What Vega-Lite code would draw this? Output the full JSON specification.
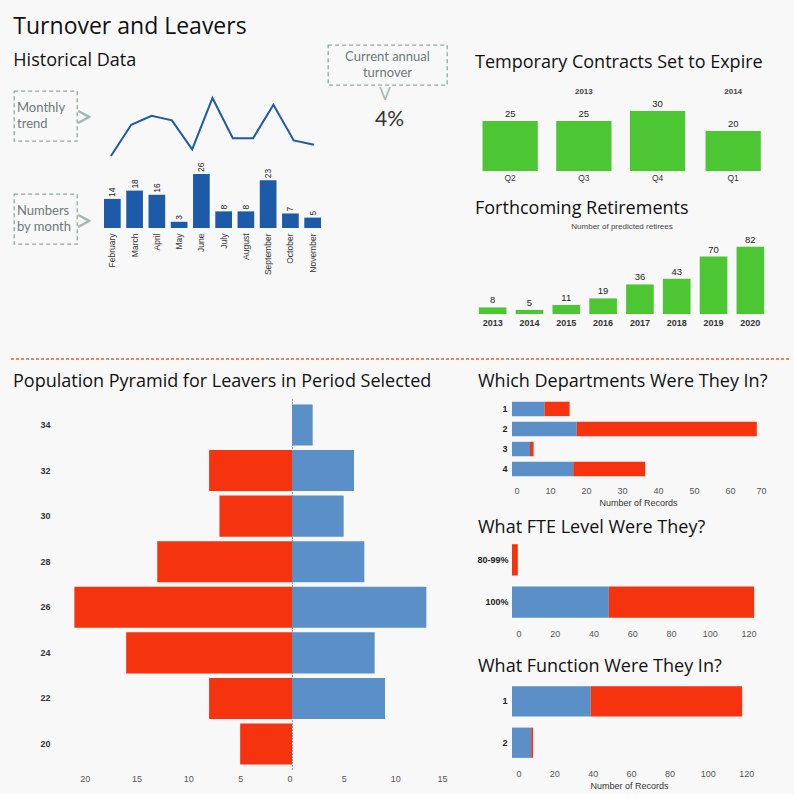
{
  "$schema": "https://vega.github.io/schema/vega-lite/v6.json",
  "background": "#f8f8f8",
  "padding": {"left": 8, "top": 16, "right": 4, "bottom": 4},
  "title": {"text": "Turnover and Leavers", "fontSize": 23, "dx": 5, "offset": 5},
  "datasets": {
    "monthly": [
      {"month": "February", "count": 14}, {"month": "March", "count": 18}, {"month": "April", "count": 16},
      {"month": "May", "count": 3}, {"month": "June", "count": 26}, {"month": "July", "count": 8},
      {"month": "August", "count": 8}, {"month": "September", "count": 23}, {"month": "October", "count": 7},
      {"month": "November", "count": 5}
    ],
    "trend": [
      {"month": "January", "count": 0}, {"month": "February", "count": 14}, {"month": "March", "count": 18},
      {"month": "April", "count": 16}, {"month": "May", "count": 3}, {"month": "June", "count": 26},
      {"month": "July", "count": 8}, {"month": "August", "count": 8}, {"month": "September", "count": 23},
      {"month": "October", "count": 7}, {"month": "November", "count": 5}
    ],
    "contracts": [
      {"year": "2013", "quarter": "Q2", "count": 25}, {"year": "2013", "quarter": "Q3", "count": 25},
      {"year": "2013", "quarter": "Q4", "count": 30}, {"year": "2014", "quarter": "Q1", "count": 20}
    ],
    "retire": [
      {"year": "2013", "count": 8}, {"year": "2014", "count": 5}, {"year": "2015", "count": 11},
      {"year": "2016", "count": 19}, {"year": "2017", "count": 36}, {"year": "2018", "count": 43},
      {"year": "2019", "count": 70}, {"year": "2020", "count": 82}
    ],
    "pyramid": [
      {"age": "34", "gender": "Female", "count": 0}, {"age": "34", "gender": "Male", "count": 2},
      {"age": "32", "gender": "Female", "count": 8}, {"age": "32", "gender": "Male", "count": 6},
      {"age": "30", "gender": "Female", "count": 7}, {"age": "30", "gender": "Male", "count": 5},
      {"age": "28", "gender": "Female", "count": 13}, {"age": "28", "gender": "Male", "count": 7},
      {"age": "26", "gender": "Female", "count": 21}, {"age": "26", "gender": "Male", "count": 13},
      {"age": "24", "gender": "Female", "count": 16}, {"age": "24", "gender": "Male", "count": 8},
      {"age": "22", "gender": "Female", "count": 8}, {"age": "22", "gender": "Male", "count": 9},
      {"age": "20", "gender": "Female", "count": 5}, {"age": "20", "gender": "Male", "count": 0}
    ],
    "dept": [
      {"dept": "1", "gender": "Male", "n": 9}, {"dept": "1", "gender": "Female", "n": 7},
      {"dept": "2", "gender": "Male", "n": 18}, {"dept": "2", "gender": "Female", "n": 50},
      {"dept": "3", "gender": "Male", "n": 5}, {"dept": "3", "gender": "Female", "n": 1},
      {"dept": "4", "gender": "Male", "n": 17}, {"dept": "4", "gender": "Female", "n": 20}
    ],
    "fte": [
      {"fte": "80-99%", "gender": "Female", "n": 3},
      {"fte": "100%", "gender": "Male", "n": 50}, {"fte": "100%", "gender": "Female", "n": 75}
    ],
    "func": [
      {"func": "1", "gender": "Male", "n": 41}, {"func": "1", "gender": "Female", "n": 79},
      {"func": "2", "gender": "Male", "n": 10}, {"func": "2", "gender": "Female", "n": 1}
    ],
    "notes": [
      {"note": "trend", "label": "Monthly\ntrend"},
      {"note": "month", "label": "Numbers\nby month"},
      {"note": "turnover", "label": "Current annual\nturnover"},
      {"note": "value", "label": "4%"}
    ]
  },
  "spacing": 13,
  "vconcat": [
    {
      "spacing": 31,
      "vconcat": [
        {
          "spacing": 0,
          "hconcat": [
            {"width": 4, "height": 10, "data": {"values": []}, "mark": "point"},
            {
              "spacing": 27,
              "hconcat": [
                {
                  "title": {"text": "Historical Data", "fontSize": 18, "dy": 26, "offset": 0},
                  "spacing": 4,
                  "hconcat": [
                    {
                      "spacing": 8,
                      "hconcat": [
                        {
                          "spacing": 0,
                          "vconcat": [
                            {"width": 63, "height": 45, "data": {"values": []}, "mark": "point"},
                            {
                              "width": 63, "height": 50,
                              "data": {"name": "notes"},
                              "transform": [{"filter": "datum.note == 'trend'"}],
                              "view": {"stroke": "#8da8a2", "strokeDash": [4, 3], "strokeWidth": 1.3},
                              "layer": [
                                {"mark": {"type": "text", "align": "left", "baseline": "middle", "dx": -28.5, "dy": -8, "font": "Lato", "fontSize": 13, "lineHeight": 16, "lineBreak": "\n", "color": "#6b7a78"},
                                 "encoding": {"text": {"field": "label"}}},
                                {"mark": {"type": "text", "text": ">", "align": "left", "baseline": "middle", "dx": 29, "dy": 2, "font": "Lato", "fontSize": 32, "color": "#a3b8b3"},
                                 "encoding": {}}
                              ]
                            },
                            {"width": 63, "height": 51, "data": {"values": []}, "mark": "point"},
                            {
                              "width": 63, "height": 50,
                              "data": {"name": "notes"},
                              "transform": [{"filter": "datum.note == 'month'"}],
                              "view": {"stroke": "#8da8a2", "strokeDash": [4, 3], "strokeWidth": 1.3},
                              "layer": [
                                {"mark": {"type": "text", "align": "left", "baseline": "middle", "dx": -28.5, "dy": -8, "font": "Lato", "fontSize": 13, "lineHeight": 16, "lineBreak": "\n", "color": "#6b7a78"},
                                 "encoding": {"text": {"field": "label"}}},
                                {"mark": {"type": "text", "text": ">", "align": "left", "baseline": "middle", "dx": 29, "dy": 2.5, "font": "Lato", "fontSize": 32, "color": "#a3b8b3"},
                                 "encoding": {}}
                              ]
                            }
                          ]
                        },
                        {
                          "spacing": 2,
                          "vconcat": [
                            {"width": 221, "height": 47, "data": {"values": []}, "mark": "point"},
                            {
                              "width": 221, "height": 58,
                              "data": {"name": "trend"},
                              "mark": {"type": "line", "color": "#1d5aa7", "strokeWidth": 2},
                              "encoding": {
                                "x": {"field": "month", "type": "ordinal", "sort": null, "scale": {"type": "point", "padding": 0.44}, "axis": null},
                                "y": {"field": "count", "type": "quantitative", "scale": {"domain": [0, 26], "nice": false}, "axis": null}
                              }
                            },
                            {
                              "width": 221, "height": 54,
                              "data": {"name": "monthly"},
                              "encoding": {
                                "x": {"field": "month", "type": "nominal", "sort": null, "scale": {"paddingInner": 0.25, "paddingOuter": 0.09},
                                      "axis": {"title": null, "labelAngle": -90, "labelFontSize": 8.5, "labelColor": "#333", "labelPadding": 5}},
                                "y": {"field": "count", "type": "quantitative", "scale": {"domain": [0, 26], "nice": false}, "axis": null}
                              },
                              "layer": [
                                {"mark": {"type": "bar", "color": "#1d5aa7"}},
                                {"mark": {"type": "text", "angle": 270, "align": "left", "baseline": "middle", "dx": 2, "fontSize": 8.5, "color": "#222"},
                                 "encoding": {"text": {"field": "count"}}}
                              ]
                            }
                          ]
                        }
                      ]
                    },
                    {
                      "spacing": 0,
                      "vconcat": [
                        {
                          "width": 119, "height": 40,
                          "data": {"name": "notes"},
                          "transform": [{"filter": "datum.note == 'turnover'"}],
                          "view": {"stroke": "#8da8a2", "strokeDash": [4, 3], "strokeWidth": 1.3},
                          "mark": {"type": "text", "align": "center", "baseline": "middle", "dy": -8, "font": "Lato", "fontSize": 13, "lineHeight": 16, "lineBreak": "\n", "color": "#6b7a78"},
                          "encoding": {"text": {"field": "label"}}
                        },
                        {
                          "width": 119, "height": 68,
                          "data": {"name": "notes"},
                          "transform": [{"filter": "datum.note == 'value'"}],
                          "layer": [
                            {"mark": {"type": "text", "align": "center", "baseline": "middle", "dx": 2, "font": "Lato", "fontSize": 21, "color": "#333"},
                             "encoding": {"text": {"field": "label"}}},
                            {"mark": {"type": "text", "text": "V", "align": "center", "baseline": "middle", "dx": -2.5, "dy": -25, "font": "Lato", "fontSize": 17, "color": "#a3b8b3"},
                             "encoding": {}}
                          ]
                        }
                      ]
                    }
                  ]
                },
                {
                  "spacing": 0,
                  "vconcat": [
                    {"width": 10, "height": 9, "data": {"values": []}, "mark": "point"},
                    {
                      "spacing": 18,
                      "vconcat": [
                        {
                          "title": {"text": "Temporary Contracts Set to Expire", "fontSize": 18, "dx": -2, "offset": 16},
                          "data": {"name": "contracts"},
                          "facet": {"column": {"field": "year", "type": "ordinal",
                            "header": {"title": null, "labelFontSize": 8, "labelFontWeight": "bold", "labelColor": "#444", "labelPadding": 3, "labelFont": "Liberation Sans"}}},
                          "spacing": 9,
                          "resolve": {"scale": {"x": "independent"}},
                          "spec": {
                            "width": {"step": 73.7}, "height": 70,
                            "encoding": {
                              "x": {"field": "quarter", "type": "nominal", "sort": null, "scale": {"paddingInner": 0.25, "paddingOuter": 0.075},
                                    "axis": {"title": null, "labelAngle": 0, "labelFontSize": 8.5, "labelColor": "#333", "labelPadding": 2}},
                              "y": {"field": "count", "type": "quantitative", "scale": {"domain": [0, 35], "nice": false}, "axis": null}
                            },
                            "layer": [
                              {"mark": {"type": "bar", "color": "#4cc733"}},
                              {"mark": {"type": "text", "baseline": "bottom", "dy": -2, "fontSize": 9.5, "color": "#222"},
                               "encoding": {"text": {"field": "count"}}}
                            ]
                          }
                        },
                        {
                          "title": {"text": "Forthcoming Retirements", "fontSize": 18, "dx": -2, "offset": 4},
                          "data": {"name": "retire"},
                          "width": 289, "height": 78,
                          "resolve": {"axis": {"x": "independent"}},
                          "layer": [
                            {
                              "mark": {"type": "bar", "color": "#4cc733"},
                              "encoding": {
                                "x": {"field": "year", "type": "ordinal", "scale": {"paddingInner": 0.25, "paddingOuter": 0.05},
                                      "axis": {"title": null, "labelAngle": 0, "labelFontWeight": "bold", "labelFontSize": 9, "labelPadding": 4, "labelColor": "#333"}},
                                "y": {"field": "count", "type": "quantitative", "scale": {"domain": [0, 95], "nice": false}, "axis": null}
                              }
                            },
                            {
                              "mark": {"type": "text", "baseline": "bottom", "dy": -2, "fontSize": 9.5, "color": "#222"},
                              "encoding": {
                                "x": {"field": "year", "type": "ordinal",
                                      "axis": {"orient": "top", "title": "Number of predicted retirees", "labels": false, "titleFontSize": 8, "titleColor": "#444", "titlePadding": 6}},
                                "y": {"field": "count", "type": "quantitative", "axis": null},
                                "text": {"field": "count"}
                              }
                            }
                          ]
                        }
                      ]
                    }
                  ]
                }
              ]
            }
          ]
        },
        {
          "width": 780, "height": 1,
          "data": {"values": [{}]},
          "mark": {"type": "rule", "color": "#e2622b", "strokeDash": [3, 2], "strokeWidth": 1.3},
          "encoding": {"y": {"datum": 0, "type": "quantitative", "scale": {"domain": [0, 1]}, "axis": null}}
        }
      ]
    },
    {
      "spacing": 0,
      "hconcat": [
        {"width": 4, "height": 10, "data": {"values": []}, "mark": "point"},
        {
          "spacing": 29,
          "hconcat": [
            {
              "title": {"text": "Population Pyramid for Leavers in Period Selected", "fontSize": 18, "frame": "group", "dx": -51, "offset": 8},
              "spacing": 0,
              "hconcat": [
                {
                  "width": 228, "height": 371,
                  "data": {"name": "pyramid"},
                  "transform": [{"filter": "datum.gender == 'Female'"}],
                  "mark": {"type": "bar", "color": "#f5330f"},
                  "encoding": {
                    "y": {"field": "age", "type": "ordinal", "scale": {"domain": ["34", "32", "30", "28", "26", "24", "22", "20"], "paddingInner": 0.1, "paddingOuter": 0.12},
                          "axis": {"title": null, "labelFontWeight": "bold", "labelFontSize": 9, "labelColor": "#333", "labelPadding": 14}},
                    "x": {"field": "count", "type": "quantitative", "scale": {"domain": [0, 22], "reverse": true, "nice": false},
                          "axis": {"title": null, "values": [0, 5, 10, 15, 20], "labelFontSize": 9, "labelColor": "#555", "labelPadding": 4}}
                  }
                },
                {
                  "width": 155, "height": 371,
                  "data": {"name": "pyramid"},
                  "transform": [{"filter": "datum.gender == 'Male'"}],
                  "mark": {"type": "bar", "color": "#5b8fc8"},
                  "encoding": {
                    "y": {"field": "age", "type": "ordinal", "scale": {"domain": ["34", "32", "30", "28", "26", "24", "22", "20"], "paddingInner": 0.1, "paddingOuter": 0.12},
                          "axis": {"title": null, "labels": false, "domain": true, "domainDash": [1, 2], "domainColor": "#444", "domainWidth": 1}},
                    "x": {"field": "count", "type": "quantitative", "scale": {"domain": [0, 15], "nice": false},
                          "axis": {"title": null, "values": [5, 10, 15], "labelFlush": true, "labelFontSize": 9, "labelColor": "#555", "labelPadding": 4}}
                  }
                }
              ]
            },
            {
              "spacing": 12,
              "vconcat": [
                {
                  "title": {"text": "Which Departments Were They In?", "fontSize": 18, "frame": "group", "dx": -34, "offset": 8},
                  "width": 252, "height": 80,
                  "data": {"name": "dept"},
                  "mark": "bar",
                  "encoding": {
                    "y": {"field": "dept", "type": "ordinal", "scale": {"paddingInner": 0.28, "paddingOuter": 0.135},
                          "axis": {"title": null, "labelFontWeight": "bold", "labelFontSize": 9, "labelColor": "#222", "labelPadding": 5}},
                    "x": {"field": "n", "type": "quantitative", "stack": "zero", "scale": {"domain": [0, 70], "nice": false},
                          "axis": {"title": "Number of Records", "values": [0, 10, 20, 30, 40, 50, 60, 70], "labelOffset": 2, "labelFontSize": 9, "labelColor": "#555", "labelPadding": 7, "titleFontSize": 9, "titleColor": "#333", "titlePadding": 3}},
                    "color": {"field": "gender", "type": "nominal", "scale": {"domain": ["Male", "Female"], "range": ["#5b8fc8", "#f5330f"]}, "legend": null},
                    "order": {"field": "gender", "sort": "descending"}
                  }
                },
                {
                  "spacing": 20,
                  "vconcat": [
                    {
                      "title": {"text": "What FTE Level Were They?", "fontSize": 18, "frame": "group", "dx": -34, "offset": 3},
                      "width": 246, "height": 82,
                      "data": {"name": "fte"},
                      "mark": "bar",
                      "encoding": {
                        "y": {"field": "fte", "type": "ordinal", "scale": {"domain": ["80-99%", "100%"], "paddingInner": 0.26, "paddingOuter": 0.1},
                              "axis": {"title": null, "labelFontWeight": "bold", "labelFontSize": 9, "labelColor": "#222", "labelPadding": 4}},
                        "x": {"field": "n", "type": "quantitative", "stack": "zero", "scale": {"domain": [0, 127], "nice": false},
                              "axis": {"title": null, "values": [0, 20, 40, 60, 80, 100, 120], "labelOffset": 4, "labelFontSize": 9, "labelColor": "#555", "labelPadding": 7}},
                        "color": {"field": "gender", "type": "nominal", "scale": {"domain": ["Male", "Female"], "range": ["#5b8fc8", "#f5330f"]}, "legend": null},
                        "order": {"field": "gender", "sort": "descending"}
                      }
                    },
                    {
                      "title": {"text": "What Function Were They In?", "fontSize": 18, "frame": "group", "dx": -34, "offset": 6},
                      "width": 234, "height": 80,
                      "data": {"name": "func"},
                      "mark": "bar",
                      "encoding": {
                        "y": {"field": "func", "type": "ordinal", "scale": {"paddingInner": 0.27, "paddingOuter": 0.1},
                              "axis": {"title": null, "labelFontWeight": "bold", "labelFontSize": 9, "labelColor": "#222", "labelPadding": 5}},
                        "x": {"field": "n", "type": "quantitative", "stack": "zero", "scale": {"domain": [0, 122], "nice": false},
                              "axis": {"title": "Number of Records", "values": [0, 20, 40, 60, 80, 100, 120], "labelOffset": 4, "labelFontSize": 9, "labelColor": "#555", "labelPadding": 7, "titleFontSize": 9, "titleColor": "#333", "titlePadding": 3}},
                        "color": {"field": "gender", "type": "nominal", "scale": {"domain": ["Male", "Female"], "range": ["#5b8fc8", "#f5330f"]}, "legend": null},
                        "order": {"field": "gender", "sort": "descending"}
                      }
                    }
                  ]
                }
              ]
            }
          ]
        }
      ]
    }
  ],
  "config": {
    "view": {"stroke": null},
    "font": "Liberation Sans",
    "title": {"font": "Open Sans", "fontWeight": "normal", "color": "#111", "anchor": "start", "fontSize": 17},
    "axis": {"grid": false, "domain": false, "ticks": false, "labelFont": "Liberation Sans", "titleFont": "Liberation Sans", "titleFontWeight": "normal"},
    "header": {"labelFont": "Liberation Sans"}
  }
}
